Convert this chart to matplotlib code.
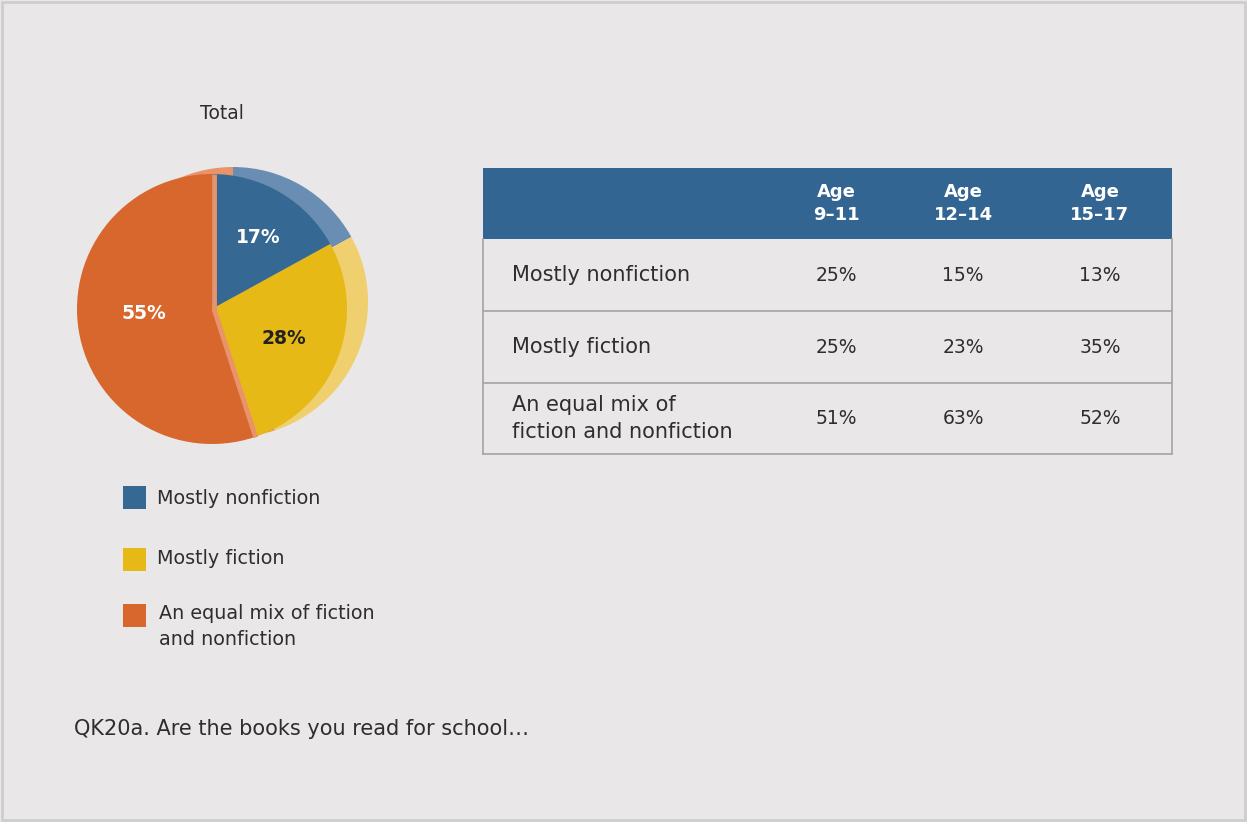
import numpy as np
import matplotlib.pyplot as plt
from matplotlib.patches import Rectangle

# ---- data
pie_labels = ['Mostly nonfiction', 'Mostly fiction', 'An equal mix of fiction\nand nonfiction']
pie_values = [17, 28, 55]
pie_text = ['17%', '28%', '55%']

table_cols = ['Age\n9\u201311', 'Age\n12\u201314', 'Age\n15\u201317']
table_rows = ['Mostly nonfiction', 'Mostly fiction', 'An equal mix of\nfiction and nonfiction']
table_vals = [['25%', '15%', '13%'],
              ['25%', '23%', '35%'],
              ['51%', '63%', '52%']]

# ---- style
bg = '#eae7e8'
blue, yellow, orange = '#366894', '#e7b917', '#d7672d'
blue_l, yellow_l, orange_l = '#6a8db3', '#f0cf6e', '#e8936a'
hdr = '#336592'
grid = '#a9a7a8'
txt = '#2e2e2e'

plt.rcParams['font.family'] = ['DejaVu Sans']

W, H = 1247, 822
fig = plt.figure(figsize=(W/100, H/100), dpi=100, facecolor=bg)
ax = fig.add_axes([0, 0, 1, 1])
ax.set_facecolor(bg)

def Y(py):
  return H - py

# frame around whole graphic
ax.add_patch(Rectangle((2, 2), W-4, H-4, fill=False, ec='#cfcdce', lw=2))

#-------------------------------------------------------------------------
# pie : lighter copy behind, offset up/right, gives the 3d look
cx, cy, r = 212, 309, 135
ax.pie(pie_values, colors=[blue_l, yellow_l, orange_l], startangle=90, counterclock=False,
       center=(cx+21, Y(cy-7)), radius=r, wedgeprops=dict(lw=0))
wedges, _ = ax.pie(pie_values, colors=[blue, yellow, orange], startangle=90, counterclock=False,
       center=(cx, Y(cy)), radius=r, wedgeprops=dict(lw=0))

# light side edges of the orange slice
for ang in [wedges[2].theta1, wedges[2].theta2]:
  a = np.radians(ang)
  ax.plot([cx+2, cx+2 + r*np.cos(a)], [Y(cy), Y(cy) + r*np.sin(a)], color=orange_l, lw=3.5,
          solid_capstyle='butt', zorder=3)

lbl_pos = [(258, 237), (284, 338), (144, 313)]
lbl_col = ['white', '#222222', 'white']
for t, (px, py), c in zip(pie_text, lbl_pos, lbl_col):
  ax.text(px, Y(py), t, color=c, fontsize=13.5, fontweight='semibold', ha='center', va='center', zorder=4)

ax.text(222, Y(113), 'Total', fontsize=13.5, color=txt, ha='center', va='center')

# legend
leg_y = [498, 559, 615]
for lab, col, py in zip(pie_labels, [blue, yellow, orange], leg_y):
  ax.add_patch(Rectangle((123, Y(py+11.5)), 23, 23, color=col, lw=0))
  if '\n' in lab:
    ax.text(159, Y(py-11), lab, fontsize=13.8, color=txt, ha='left', va='top', linespacing=1.45)
  else:
    ax.text(157, Y(py), lab, fontsize=13.8, color=txt, ha='left', va='center')

#-------------------------------------------------------------------------
# table
tx0, tx1 = 483, 1172
ty = [168, 239, 311, 383, 454]
col_x = [836, 963, 1100]

ax.add_patch(Rectangle((tx0, Y(ty[1])), tx1-tx0, ty[1]-ty[0], color=hdr, lw=0))
for c, x in zip(table_cols, col_x):
  ax.text(x, Y((ty[0]+ty[1])/2), c, color='white', fontsize=13, fontweight='bold',
          ha='center', va='center', linespacing=1.3)

for i, (row, vals) in enumerate(zip(table_rows, table_vals)):
  ymid = Y((ty[i+1]+ty[i+2])/2)
  ax.text(512, ymid, row, fontsize=15, color=txt, ha='left', va='center', linespacing=1.4)
  for v, x in zip(vals, col_x):
    ax.text(x, ymid, v, fontsize=13.5, color=txt, ha='center', va='center')
  ax.plot([tx0, tx1], [Y(ty[i+2]), Y(ty[i+2])], color=grid, lw=1.3)

ax.plot([tx0, tx0], [Y(ty[1]), Y(ty[-1])], color=grid, lw=1.3)
ax.plot([tx1, tx1], [Y(ty[1]), Y(ty[-1])], color=grid, lw=1.3)

ax.text(74, Y(729), 'QK20a. Are the books you read for school\u2026', fontsize=15, color=txt,
        ha='left', va='center')

ax.set_xlim(0, W)
ax.set_ylim(0, H)
ax.set_aspect('equal')
ax.axis('off')

fig.savefig('out.png', dpi=100, facecolor=bg)
